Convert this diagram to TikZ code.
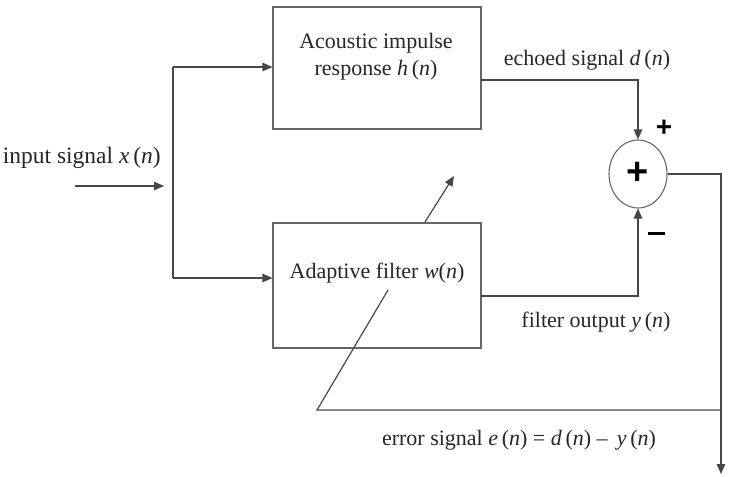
\documentclass[tikz,border=0pt]{standalone}
\usepackage{fontspec}
\setmainfont{Liberation Serif}
\newfontfamily\symfont{Liberation Sans}
\usetikzlibrary{arrows.meta,shapes.geometric}
\begin{document}
\begin{tikzpicture}[x=1pt,y=-1pt,
  line/.style={draw=black!72,line width=1.2pt},
  arr/.style={line,-{Triangle[length=10pt,width=8.5pt]}},
  blk/.style={draw=black!60,line width=1.1pt,rectangle,inner sep=0pt},
  lbl/.style={font=\fontsize{22}{26}\selectfont,text=black!85,inner sep=0pt},
  sgn/.style={text=black,inner sep=0pt}]
\useasboundingbox (0,0) rectangle (730,476);
% blocks
\node[blk,minimum width=208pt,minimum height=122pt] (top) at (377,68) {};
\node[blk,minimum width=208pt,minimum height=125pt] (bot) at (377,285.5) {};
\node[draw=black!60,line width=1.1pt,ellipse,minimum width=58pt,minimum height=68pt,inner sep=0pt] (sum) at (638,174) {};
\node[sgn,font=\symfont\bfseries\fontsize{38}{38}\selectfont] (plusin) at (638,173) {+};
\node[sgn,font=\symfont\bfseries\fontsize{28}{28}\selectfont] (pluslbl) at (664,128) {+};
\node[sgn] (minuslbl) at (656,233) {\rule{17pt}{3pt}};
% labels
\node[lbl,align=center] (toptxt) at (376,57) {Acoustic impulse\\[1pt] response \textit{h}\,(\textit{n})};
\node[lbl] (bottxt) at (377,273) {Adaptive filter \textit{w}(\textit{n})};
\node[lbl,anchor=east,font=\fontsize{23.5}{26}\selectfont] (intxt) at (161,158) {input signal \textit{x}\,(\textit{n})};
\node[lbl] (echotxt) at (587,60) {echoed signal \textit{d}\,(\textit{n})};
\node[lbl] (outtxt) at (596,322) {filter output \textit{y}\,(\textit{n})};
\node[lbl] (errtxt) at (519,440) {error signal \textit{e}\,(\textit{n}) = \textit{d}\,(\textit{n}) \textendash\ \,\textit{y}\,(\textit{n})};
% coordinates
\coordinate (inS) at (75,186);
\coordinate (inE) at (164,186);
\coordinate (spT) at (173,67);
\coordinate (spB) at (173,278);
\coordinate (topO) at (481,80);
\coordinate (botO) at (481,296);
\coordinate (outE) at (721,474);
\coordinate (errR) at (721,410);
\coordinate (errC) at (317,410);
\coordinate (errD) at (388,290);
\coordinate (adS) at (425,222);
\coordinate (adE) at (454,176);
% connectors
\draw[arr] (inS) -- (inE);
\draw[line] (spB) -- (spT);
\draw[arr] (spT) -- (top.west |- spT);
\draw[arr] (spB) -- (bot.west |- spB);
\draw[arr] (topO) -| (sum.north);
\draw[arr] (botO) -| (sum.south);
\draw[arr] (sum.east) -| (outE);
\draw[line] (errR) -- (errC) -- (errD);
\draw[arr] (adS) -- (adE);
\end{tikzpicture}
\end{document}
